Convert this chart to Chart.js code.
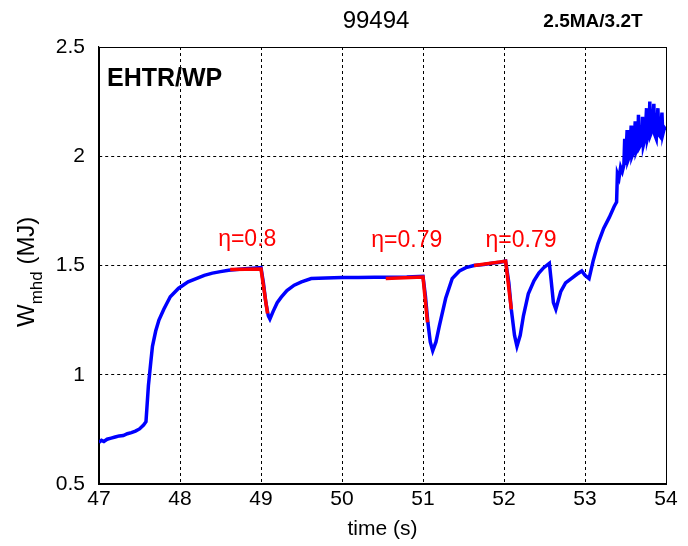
<!DOCTYPE html>
<html>
<head>
<meta charset="utf-8">
<script src="https://cdn.jsdelivr.net/npm/chart.js@4/dist/chart.umd.min.js"></script>
<style>
html,body{margin:0;padding:0;background:#fff;}
#wrap{width:688px;height:546px;}
</style>
</head>
<body>
<div id="wrap"><canvas id="c" width="688" height="546"></canvas></div>
<script>
// ---- data ----
const xTicks = [47, 48, 49, 50, 51, 52, 53, 54];
const yTicks = [0.5, 1, 1.5, 2, 2.5];

const blueTime = [
  47.00,47.03,47.06,47.10,47.15,47.20,47.25,47.30,47.35,47.40,47.45,47.50,47.55,47.58,47.61,47.64,47.66,47.70,47.74,47.80,47.88,47.98,48.10,48.20,48.30,48.40,48.50,48.60,48.70,48.80,48.90,49.00,
  49.03,49.06,49.09,49.11,49.15,49.20,49.25,49.32,49.41,49.50,49.62,49.80,50.00,50.20,50.40,50.60,50.80,51.00,
  51.03,51.06,51.09,51.12,51.16,51.20,51.28,51.36,51.45,51.53,51.63,51.75,51.85,51.95,52.02,
  52.06,52.09,52.13,52.16,52.20,52.24,52.30,52.37,52.43,52.49,52.56,
  52.58,52.61,52.64,52.67,52.70,52.76,52.83,52.90,52.96,53.00,53.05,53.10,53.16,53.23,53.30,53.36,53.39,
  53.40,53.42,53.44,53.46,53.48,53.49,53.50,53.52,53.53,53.55,53.57,53.58,53.60,53.62,53.63,53.65,53.66,53.67,53.70,53.71,53.72,53.74,53.76,53.77,53.79,53.80,53.81,53.83,53.85,53.86,53.88,53.90,53.91,53.93,53.95,53.96,53.98,54.00
];
const blueW = [
  0.690,0.700,0.695,0.705,0.710,0.715,0.720,0.722,0.730,0.735,0.742,0.752,0.770,0.785,0.950,1.060,1.130,1.200,1.250,1.300,1.357,1.395,1.425,1.440,1.455,1.465,1.472,1.478,1.482,1.485,1.488,1.490,
  1.420,1.330,1.270,1.255,1.290,1.330,1.355,1.385,1.410,1.425,1.440,1.443,1.445,1.445,1.446,1.446,1.447,1.450,
  1.360,1.240,1.150,1.110,1.150,1.220,1.350,1.440,1.475,1.490,1.500,1.505,1.510,1.515,1.520,
  1.420,1.300,1.180,1.130,1.180,1.270,1.370,1.430,1.465,1.490,1.510,
  1.440,1.330,1.300,1.340,1.380,1.420,1.440,1.460,1.475,1.455,1.440,1.520,1.600,1.670,1.720,1.770,1.790,
  1.920,1.900,1.950,1.930,1.960,2.080,1.960,2.120,1.980,2.000,2.140,2.000,2.020,2.160,2.020,2.040,2.190,2.040,2.060,2.180,2.050,2.080,2.220,2.080,2.110,2.250,2.100,2.120,2.240,2.100,2.080,2.220,2.100,2.090,2.200,2.100,2.130,2.120
];

const red1Time = [48.62, 49.00, 49.08];
const red1W    = [1.482, 1.484, 1.280];
const red2Time = [50.54, 51.00, 51.055];
const red2W    = [1.440, 1.447, 1.240];
const red3Time = [51.63, 52.02, 52.09];
const red3W    = [1.500, 1.520, 1.300];

const etaLabels = ['η=0.8', 'η=0.79', 'η=0.79'];
const etaTime   = [48.83, 50.80, 52.21];
const etaW      = [1.589, 1.585, 1.585];

const shotTitle = '99494';
const plasmaLabel = '2.5MA/3.2T';
const schemeLabel = 'EHTR/WP';

// ---- build ----
const toXY = (t, w) => t.map((v, i) => ({x: v, y: w[i]}));
const FONT = '"Liberation Sans", Arial, sans-serif';

const textPlugin = {
  id: 'texts',
  afterDraw(chart) {
    const ctx = chart.ctx;
    const xs = chart.scales.x, ys = chart.scales.y;
    ctx.save();
    // eta labels
    ctx.fillStyle = '#ff0000';
    ctx.font = '23px ' + FONT;
    ctx.textAlign = 'center';
    ctx.textBaseline = 'alphabetic';
    etaLabels.forEach((s, i) => {
      ctx.fillText(s, xs.getPixelForValue(etaTime[i]), ys.getPixelForValue(etaW[i]));
    });
    // header texts
    ctx.fillStyle = '#000';
    ctx.font = '24px ' + FONT;
    ctx.fillText(shotTitle, 376, 28);
    ctx.font = 'bold 19px ' + FONT;
    ctx.fillText(plasmaLabel, 593, 27);
    ctx.textAlign = 'left';
    ctx.font = 'bold 25px ' + FONT;
    ctx.fillText(schemeLabel, 107, 86);
    // y title with subscript
    ctx.translate(34, 327);
    ctx.rotate(-Math.PI / 2);
    ctx.textAlign = 'left';
    ctx.font = '24px ' + FONT;
    ctx.fillText('W', 0, 0);
    let wW = ctx.measureText('W').width;
    ctx.font = '17px ' + FONT;
    ctx.fillText('mhd', wW, 8);
    let wS = ctx.measureText('mhd').width;
    ctx.font = '24px ' + FONT;
    ctx.fillText(' (MJ)', wW + wS, 0);
    ctx.restore();
  }
};

const gridCommon = {
  color: '#000',
  lineWidth: 1,
  drawTicks: false,
};

new Chart(document.getElementById('c'), {
  type: 'line',
  data: {
    datasets: [
      {data: toXY(blueTime, blueW), borderColor: '#0000ff', borderWidth: 3.5, pointRadius: 0, tension: 0, order: 2},
      {data: toXY(red1Time, red1W), borderColor: '#ff0000', borderWidth: 3.5, pointRadius: 0, tension: 0, order: 1},
      {data: toXY(red2Time, red2W), borderColor: '#ff0000', borderWidth: 3.5, pointRadius: 0, tension: 0, order: 1},
      {data: toXY(red3Time, red3W), borderColor: '#ff0000', borderWidth: 3.5, pointRadius: 0, tension: 0, order: 1}
    ]
  },
  options: {
    responsive: false,
    animation: false,
    devicePixelRatio: 1,
    layout: {padding: {top: 47, right: 22, left: 0, bottom: 0}},
    plugins: {legend: {display: false}, tooltip: {enabled: false}},
    scales: {
      x: {
        type: 'linear', min: 47, max: 54,
        afterBuildTicks(s) { s.ticks = xTicks.map(v => ({value: v})); },
        afterFit(s) { s.height = 62; },
        ticks: {color: '#000', font: {family: FONT, size: 21}, padding: 3, maxRotation: 0, autoSkip: false},
        grid: gridCommon,
        border: {display: true, color: '#000', width: 1.2, dash: [3, 3]},
        title: {display: true, text: 'time (s)', color: '#000', font: {family: FONT, size: 21}, padding: {top: 0, bottom: 4}}
      },
      y: {
        type: 'linear', min: 0.5, max: 2.5,
        afterBuildTicks(s) { s.ticks = yTicks.map(v => ({value: v})); },
        afterFit(s) { s.width = 99; },
        ticks: {color: '#000', font: {family: FONT, size: 21}, padding: 14, callback: v => String(v)},
        grid: gridCommon,
        border: {display: true, color: '#000', width: 1.2, dash: [3, 3]}
      }
    }
  },
  plugins: [textPlugin, {
    id: 'frame',
    beforeDatasetsDraw(chart) {
      const {ctx, chartArea: a} = chart;
      ctx.save();
      ctx.strokeStyle = '#000';
      ctx.lineWidth = 1;
      ctx.setLineDash([]);
      ctx.strokeRect(a.left + 0.5, a.top + 0.5, a.right - a.left, a.bottom - a.top);
      ctx.restore();
    }
  }]
});
</script>
</body>
</html>
